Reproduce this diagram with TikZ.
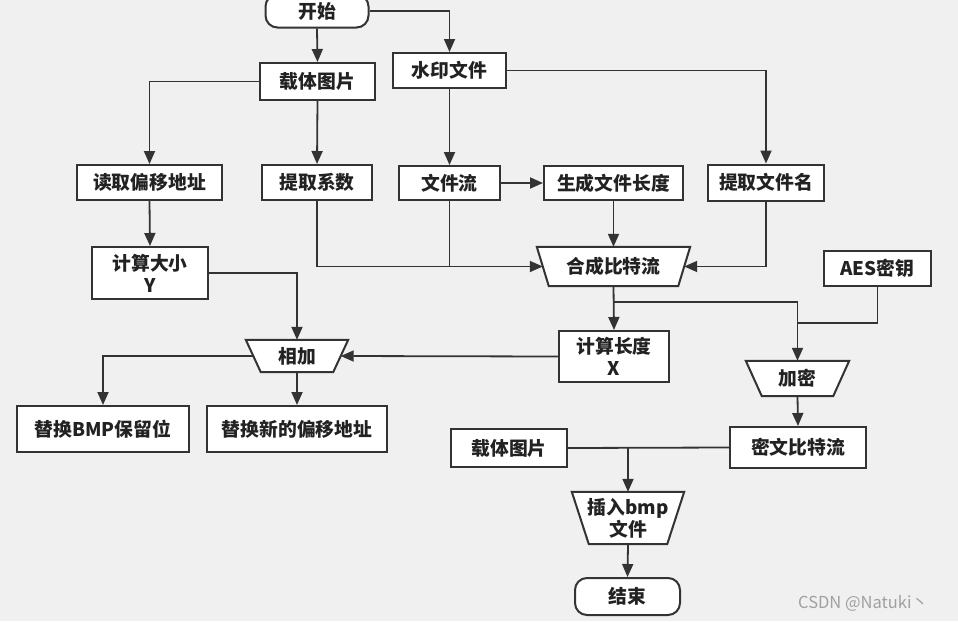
\documentclass[tikz,border=0pt]{standalone}
\usepackage{fontspec}
\setmainfont{Noto Sans CJK SC}
\usetikzlibrary{arrows.meta,calc}
\definecolor{bgc}{HTML}{F0F0F0}
\definecolor{ink}{HTML}{333333}
\definecolor{txt}{HTML}{222222}
\definecolor{wmark}{HTML}{A0A0A0}
\pgfdeclarelayer{bgl}
\pgfdeclarelayer{midl}
\pgfsetlayers{bgl,midl,main}
\newcommand\trapz[2]{%
  \begin{pgfonlayer}{midl}
    \draw[boxline,fill=white] (#1.north west) -- (#1.north east) -- ([xshift=-#2pt]#1.south east) -- ([xshift=#2pt]#1.south west) -- cycle;
  \end{pgfonlayer}}
\tikzset{
  boxline/.style={draw=ink,line width=2pt,line join=miter},
  lbl/.style={text=txt,font=\fontsize{18.8}{22}\selectfont\bfseries,align=center,inner sep=0pt},
  box/.style={lbl,boxline,fill=white,rectangle},
  term/.style={box,rounded corners=12pt},
  trapn/.style={lbl,rectangle},
  conn/.style={draw=ink,line width=1.8pt},
  arr/.style={conn,-{Triangle[length=13pt,width=11pt]}},
}
\begin{document}
\begin{tikzpicture}[x=1pt,y=-1pt]
\begin{pgfonlayer}{bgl}
  \fill[bgc] (0,0) rectangle (958,621);
\end{pgfonlayer}
\useasboundingbox (0,0) rectangle (958,621);

% nodes
\node[term,minimum width=103pt,minimum height=33pt] (start) at (317,11) {开始};
\node[box,minimum width=115pt,minimum height=37pt] (carrier) at (317.5,81.5) {载体图片};
\node[box,minimum width=113pt,minimum height=35pt] (wm) at (449.5,70.5) {水印文件};
\node[box,minimum width=145pt,minimum height=35pt] (readoff) at (149.5,182.5) {读取偏移地址};
\node[box,minimum width=110pt,minimum height=35pt] (coef) at (317,182.5) {提取系数};
\node[box,minimum width=101pt,minimum height=34pt] (fs) at (449.5,183) {文件流};
\node[box,minimum width=139pt,minimum height=34pt] (genlen) at (613.5,183) {生成文件长度};
\node[box,minimum width=116pt,minimum height=36pt] (fname) at (766,182.5) {提取文件名};
\node[box,minimum width=116pt,minimum height=52pt] (calcY) at (150,273) {计算大小\\Y};
\node[trapn,minimum width=153pt,minimum height=39pt] (comb) at (613.5,266.5) {合成比特流};
\node[box,minimum width=107pt,minimum height=35pt] (aes) at (877.5,268.5) {AES密钥};
\node[trapn,minimum width=102pt,minimum height=32pt] (add) at (297,356) {相加};
\node[box,minimum width=110pt,minimum height=51pt] (calcX) at (614,356.5) {计算长度\\X};
\node[trapn,minimum width=103pt,minimum height=35pt] (enc) at (797.5,378.5) {加密};
\node[box,minimum width=172pt,minimum height=46pt] (rep1) at (103,429) {替换BMP保留位};
\node[box,minimum width=180pt,minimum height=46pt] (rep2) at (297,429) {替换新的偏移地址};
\node[box,minimum width=136pt,minimum height=41pt] (cipher) at (798,447.5) {密文比特流};
\node[box,minimum width=116pt,minimum height=38pt] (carrier2) at (509,448) {载体图片};
\node[trapn,minimum width=112pt,minimum height=52pt] (insert) at (628,518) {插入bmp\\文件};
\node[term,minimum width=105pt,minimum height=37pt] (end) at (627.5,596.5) {结束};
\node[font=\fontsize{16.5}{18}\selectfont,text=wmark,inner sep=0pt,anchor=west] (wmk) at (798,603) {CSDN @Natuki丶};

\trapz{comb}{12}
\trapz{add}{15}
\trapz{enc}{16}
\trapz{insert}{17}

% helper coordinates
\coordinate (combW) at ([xshift=6pt]comb.west);
\coordinate (combE) at ([xshift=-6pt]comb.east);
\coordinate (addW) at ([xshift=7.5pt]add.west);
\coordinate (addE) at ([xshift=-7.5pt]add.east);
\coordinate (j1) at (613.5,302);
\coordinate (j2) at (797.5,323);
\coordinate (j3) at (628,448);

% connectors
\draw[arr] (start.south) -- (carrier.north);
\draw[arr] (start.east) -| (wm.north);
\draw[arr] (carrier.west) -| (readoff.north);
\draw[arr] (carrier.south) -- (coef.north);
\draw[arr] (wm.south) -- (fs.north);
\draw[arr] (wm.east) -| (fname.north);
\draw[arr] (fs.east) -- (genlen.west);
\draw[arr] (readoff.south) -- (calcY.north);
\draw[arr] (coef.south) |- (combW);
\draw[conn] (fs.south) -- (fs.south |- combW);
\draw[arr] (genlen.south) -- (comb.north);
\draw[arr] (fname.south) |- (combE);
\draw[arr] (comb.south) -- (calcX.north);
\draw[arr] (j1) -| (enc.north);
\draw[conn] (aes.south) |- (j2);
\draw[arr] (calcY.east) -| (add.north);
\draw[arr] (calcX.west) -- (addE);
\draw[arr] (addW) -| (rep1.north);
\draw[arr] (add.south) -- (rep2.north);
\draw[arr] (enc.south) -- (cipher.north);
\draw[conn] (carrier2.east) -- (cipher.west);
\draw[arr] (j3) -- (insert.north);
\draw[arr] (insert.south) -- (end.north);
\end{tikzpicture}
\end{document}
